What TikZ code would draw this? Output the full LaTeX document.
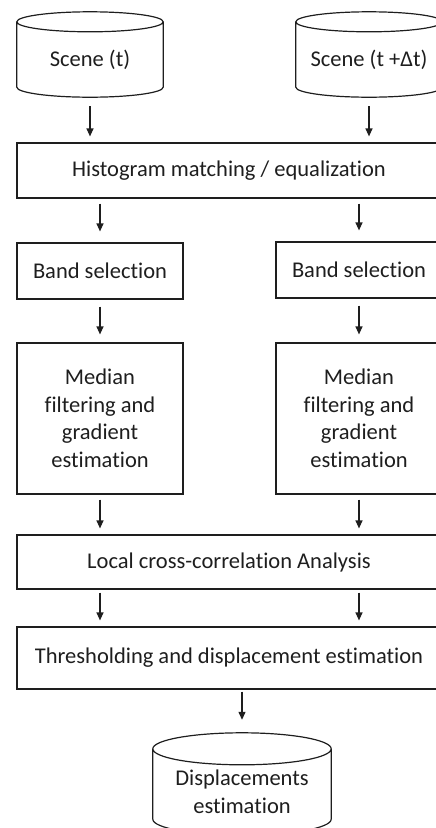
\documentclass[tikz,border=0pt]{standalone}
\usepackage{fontspec}
\setmainfont{Carlito}[Ligatures=NoCommon]
\usetikzlibrary{arrows.meta,positioning,calc}
\definecolor{InkBlack}{RGB}{30,30,30}
\tikzset{
  flowbox/.style ={rectangle, draw=InkBlack, line width=1.2pt, align=center, text=InkBlack,
                   font=\fontsize{22.5}{27.5}\selectfont, inner sep=0pt},
  cylbody/.style ={rectangle, draw=none, align=center, text=InkBlack,
                   font=\fontsize{22.5}{27.5}\selectfont, inner sep=0pt},
  cylline/.style ={draw=InkBlack, line width=1.2pt},
  arr/.style     ={-{Triangle[length=8pt,width=7pt]}, draw=InkBlack, line width=1.2pt},
}
% outline of a data cylinder round a body node: #1 node, #2 ellipse half height
\newcommand\drawcyl[2]{%
  \draw[cylline] let \p1=(#1.north west), \p2=(#1.north east), \n1={(\x2-\x1)/2} in
    (#1.north) ellipse [x radius=\n1, y radius=#2pt]
    (#1.north west) -- ($(#1.south west)+(0,-#2)$)
    arc [start angle=180, end angle=360, x radius=\n1, y radius=#2pt] -- (#1.north east);}
\begin{document}
\begin{tikzpicture}[x=1pt,y=-1pt]
  \useasboundingbox (0,0) rectangle (436,828);
  \node[cylbody,minimum width=146pt,minimum height=75pt] (s1) at (90,59.5) {Scene (t)};
  \node[cylbody,minimum width=146pt,minimum height=75pt] (s2) at (369,59.5) {Scene (t +Δt)};
  \drawcyl{s1}{10}
  \drawcyl{s2}{10}
  \node[flowbox,minimum width=424pt,minimum height=55pt] (hist) at (229,170.5)
       {Histogram matching / equalization};
  \node[flowbox,minimum width=166pt,minimum height=56pt] (band1) at (100,271) {Band selection};
  \node[flowbox,minimum width=166pt,minimum height=56pt] (band2) at (359,270) {Band selection};
  \node[flowbox,minimum width=166pt,minimum height=151pt] (med1) at (100,418.5)
       {Median\\filtering and\\gradient\\estimation};
  \node[flowbox,minimum width=166pt,minimum height=151pt] (med2) at (359,418.5)
       {Median\\filtering and\\gradient\\estimation};
  \node[flowbox,minimum width=424pt,minimum height=54pt] (local) at (229,562)
       {Local cross-correlation Analysis};
  \node[flowbox,minimum width=424pt,minimum height=62pt] (thresh) at (229,658)
       {Thresholding and displacement estimation};
  \node[cylbody,minimum width=178pt,minimum height=86pt] (disp) at (242,792)
       {Displacements\\estimation};
  \drawcyl{disp}{16}
  \foreach \a in {s1,s2}{\draw[arr,shorten <=9pt,shorten >=6pt] (\a.south) -- (\a.south |- hist.north);}
  \foreach \a in {band1,band2}{\draw[arr,shorten <=5pt,shorten >=11pt] (\a.north |- hist.south) -- (\a.north);}
  \foreach \a/\b in {band1/med1,band2/med2}{\draw[arr,shorten <=7pt,shorten >=8pt] (\a) -- (\b);}
  \foreach \a in {med1,med2}{\draw[arr,shorten <=5pt,shorten >=6pt] (\a.south) -- (\a.south |- local.north);}
  \foreach \a in {med1,med2}{\draw[arr,shorten <=3pt,shorten >=6pt] (\a.south |- local.south) -- (\a.south |- thresh.north);}
  \draw[arr,shorten <=2pt,shorten >=29pt] (disp.north |- thresh.south) -- (disp.north);
\end{tikzpicture}
\end{document}
